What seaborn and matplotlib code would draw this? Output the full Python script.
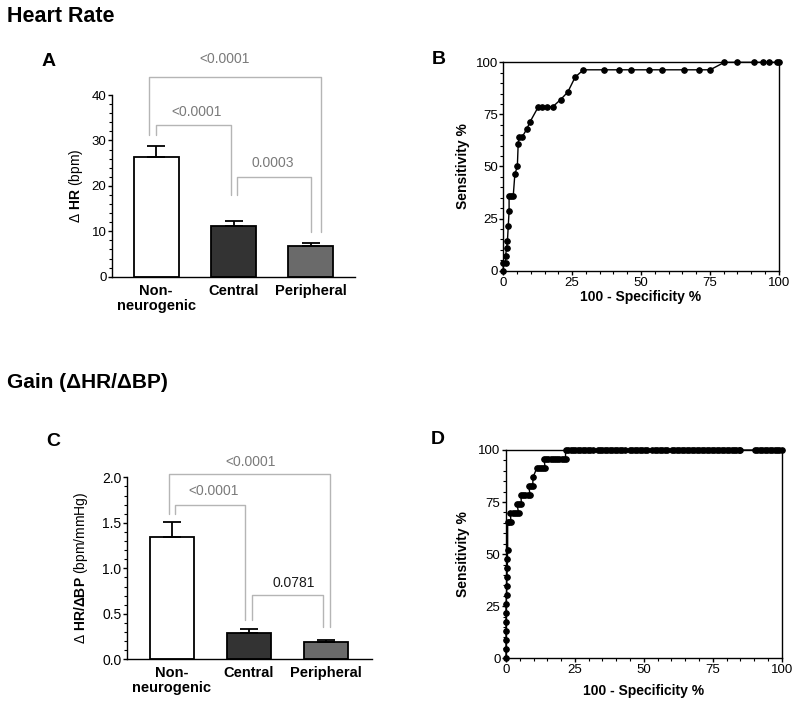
import numpy as np
import pandas as pd
import matplotlib
matplotlib.use("Agg")
import matplotlib.pyplot as plt
import seaborn as sns
from matplotlib.ticker import MultipleLocator, FormatStrFormatter

# ---------------- data ----------------
groups = ["Non-\nneurogenic", "Central", "Peripheral"]
bar_colors = ["#ffffff", "#333333", "#6a6a6a"]

hr_mean = [26.4, 11.2, 6.8]
hr_sem = [2.4, 1.1, 0.7]
hr_pvals = ["<0.0001", "<0.0001", "0.0003"]

gain_mean = [1.34, 0.29, 0.19]
gain_sem = [0.17, 0.04, 0.025]
gain_pvals = ["<0.0001", "<0.0001", "0.0781"]

roc_b_fpr = [0, 0, 0.8, 0.8, 1.2, 1.5, 1.8, 2.1, 2.1, 2.8, 3.6, 4.2, 5.1, 5.4, 5.7,
             6.9, 8.5, 9.7, 12.7, 14.2, 15.7, 17.9, 20.8, 23.4, 26.1, 29.1,
             36.6, 42.0, 46.4, 53.0, 57.7, 65.7, 71.2, 75.1,
             80.3, 84.7, 91.0, 94.2, 96.6, 99.5, 100]
roc_b_tpr = [0, 3.6, 3.6, 7.1, 10.7, 14.3, 21.4, 28.6, 35.7, 35.7, 35.7, 46.4, 50.0, 60.7, 64.3,
             64.3, 67.9, 71.4, 78.6, 78.6, 78.6, 78.6, 82.1, 85.7, 92.9, 96.4,
             96.4, 96.4, 96.4, 96.4, 96.4, 96.4, 96.4, 96.4,
             100, 100, 100, 100, 100, 100, 100]

roc_d_levels = [0, 4.3, 8.7, 13.0, 17.4, 21.7, 26.1, 30.4, 34.8, 39.1, 43.5, 47.8, 52.2,
                65.2, 69.6, 73.9, 78.3, 82.6, 87.0, 91.3, 95.7, 100]
roc_d_fpr_groups = [
    [0], [0], [0], [0], [0], [0], [0], [0.2], [0.3], [0.3], [0.5], [0.5], [0.6],
    [0.6, 1.2, 1.8],
    [1.6, 2.4, 3.2, 4.0, 4.6],
    [4.0, 4.8, 5.6],
    [5.4, 6.2, 7.0, 7.8, 8.8],
    [8.2, 9.0, 9.7],
    [9.8],
    [11.2, 12.0, 12.8, 13.6, 14.2],
    [13.8, 14.6, 15.4, 16.2, 17.0, 17.8, 18.6, 19.4, 20.2, 21.0, 21.6],
    [21.6, 22.5, 23.4, 24.3, 25.2, 26.1, 27.0, 27.9, 28.8, 29.7, 30.6, 31.5,
     33.2, 34.1, 35.0, 35.9, 36.8, 37.7, 38.6, 39.5, 40.4, 41.3, 42.2, 43.1,
     44.9, 45.8, 46.7, 47.6, 48.5, 49.4, 50.3, 51.2, 53.0, 53.9, 54.8, 55.7,
     56.6, 57.5, 58.4, 60.2, 61.1, 62.0, 62.9, 63.8, 64.7, 65.6, 66.5, 67.4,
     68.3, 69.2, 70.1, 71.0, 71.9, 72.8, 73.7, 74.6, 75.5, 76.4, 77.3, 78.2,
     79.1, 80.0, 80.9, 81.8, 82.7, 83.6, 84.5, 85.0,
     90.2, 91.1, 92.0, 92.9, 93.8, 94.7, 95.6, 96.5, 97.4, 98.3, 99.2, 100.0],
]
roc_ticks = [0, 25, 50, 75, 100]

# ---------------- style ----------------
sns.set_style("ticks")
plt.rcParams["font.family"] = ["Liberation Sans", "DejaVu Sans"]
plt.rcParams["mathtext.fontset"] = "custom"
plt.rcParams["mathtext.rm"] = "Liberation Sans"
plt.rcParams["mathtext.bf"] = "Liberation Sans:bold"
for k in ["text.color", "axes.labelcolor", "xtick.color", "ytick.color", "axes.edgecolor"]:
    plt.rcParams[k] = "black"
plt.rcParams["axes.linewidth"] = 1.0
plt.rcParams["xtick.major.width"] = 1.0
plt.rcParams["ytick.major.width"] = 1.0
plt.rcParams["xtick.minor.width"] = 0.8
plt.rcParams["ytick.minor.width"] = 0.8

fig = plt.figure(figsize=(8, 7.06), dpi=100)
W, H = 800, 706


def add_axes_px(x0, x1, ytop, ybot):
    return fig.add_axes([x0 / W, 1 - ybot / H, (x1 - x0) / W, (ybot - ytop) / H])


def bar_panel(ax, means, sems, ylim, major, minor, ylabel, xlim, width, tsize, ylab_x):
    df = pd.DataFrame({"group": groups, "value": means})
    sns.barplot(data=df, x="group", y="value", hue="group", order=groups,
                hue_order=groups, palette=bar_colors, width=width, edgecolor="black",
                linewidth=1.3, saturation=1, errorbar=None, legend=False, ax=ax)
    ax.errorbar(range(len(means)), means, yerr=[np.zeros(len(means)), sems], fmt="none",
                ecolor="black", elinewidth=1.3, capsize=6.5, capthick=1.3, zorder=5)
    ax.set_xlim(*xlim)
    ax.set_ylim(*ylim)
    ax.yaxis.set_major_locator(MultipleLocator(major))
    ax.yaxis.set_minor_locator(MultipleLocator(minor))
    ax.tick_params(axis="y", which="major", length=3.2, labelsize=tsize, pad=0.8)
    ax.tick_params(axis="y", which="minor", length=2.0)
    ax.tick_params(axis="x", length=0, pad=5)
    ax.set_xticks(range(len(groups)))
    ax.set_xticklabels(groups, fontsize=10.5, fontweight="bold", linespacing=1.1)
    ax.set_xlabel("")
    ax.set_ylabel(ylabel, fontsize=10)
    ax.yaxis.set_label_coords(ylab_x, 0.5)
    ax.yaxis.label.set_va("center")
    sns.despine(ax=ax)


def bracket(ax, x1, x2, top, yl, yr, color="#b5b5b5"):
    ax.plot([x1, x1, x2, x2], [yl, top, top, yr], color=color, lw=1.0,
            clip_on=False, zorder=6)


# ---------------- panel A ----------------
axA = add_axes_px(112, 355, 95, 276.7)
bar_panel(axA, hr_mean, hr_sem, (0, 40), 10, 2,
          "Δ $\\mathbf{HR}$ (bpm)", (-0.57, 2.57), 0.58, 9.5, -0.148)
bracket(axA, -0.09, 2.13, 44.0, 31.2, 9.9)
bracket(axA, 0.0, 0.97, 33.5, 31.2, 18.0)
bracket(axA, 1.05, 2.0, 22.0, 18.0, 9.9)
for (xt, yt), txt in zip([(0.88, 47.9), (0.52, 36.2), (1.51, 25.0)], hr_pvals):
    axA.text(xt, yt, txt, ha="center", va="center", fontsize=10, color="#7a7a7a",
             clip_on=False)

# ---------------- panel C ----------------
axC = add_axes_px(127, 372, 477.3, 659.3)
bar_panel(axC, gain_mean, gain_sem, (0, 2.0), 0.5, 0.1,
          "Δ $\\mathbf{HR/ΔBP}$ (bpm/mmHg)", (-0.58, 2.6), 0.57, 10, -0.188)
axC.yaxis.set_major_formatter(FormatStrFormatter("%.1f"))
bracket(axC, -0.04, 2.06, 2.04, 1.60, 0.35)
bracket(axC, 0.04, 0.95, 1.70, 1.60, 0.43)
bracket(axC, 1.04, 1.96, 0.71, 0.43, 0.35)
for (xt, yt), txt, col in zip([(1.03, 2.17), (0.55, 1.85), (1.58, 0.84)], gain_pvals,
                              ["#7a7a7a", "#7a7a7a", "#1a1a1a"]):
    axC.text(xt, yt, txt, ha="center", va="center", fontsize=10, color=col,
             clip_on=False)


# ---------------- ROC panels ----------------
def roc_panel(ax, fpr, tpr, ms, xlab_y, ylab_x):
    df = pd.DataFrame({"fpr": fpr, "tpr": tpr})
    sns.lineplot(data=df, x="fpr", y="tpr", sort=False, estimator=None, color="black",
                 lw=1.0, marker="o", markersize=ms, markeredgecolor="black",
                 markerfacecolor="black", ax=ax)
    for ln in ax.lines:
        ln.set_clip_on(False)
    ax.set_xlim(0, 100)
    ax.set_ylim(0, 100)
    ax.set_xticks(roc_ticks)
    ax.set_yticks(roc_ticks)
    ax.xaxis.set_minor_locator(MultipleLocator(5))
    ax.yaxis.set_minor_locator(MultipleLocator(5))
    ax.tick_params(which="major", length=3.2, labelsize=9.5)
    ax.tick_params(axis="y", pad=0.8)
    ax.tick_params(axis="x", pad=1.2)
    ax.tick_params(which="minor", length=2.0)
    ax.set_xlabel("100 - Specificity %", fontsize=10, fontweight="bold")
    ax.set_ylabel("Sensitivity %", fontsize=10, fontweight="bold")
    ax.xaxis.set_label_coords(0.5, xlab_y)
    ax.xaxis.label.set_va("top")
    ax.yaxis.set_label_coords(ylab_x, 0.5)
    ax.yaxis.label.set_va("center")
    for s in ax.spines.values():
        s.set_visible(True)
        s.set_linewidth(1.0)


axB = add_axes_px(503.3, 778.7, 62.3, 270.7)
roc_panel(axB, roc_b_fpr, roc_b_tpr, 4.0, -0.094, -0.148)

roc_d_fpr = []
roc_d_tpr = []
for lvl, xs in zip(roc_d_levels, roc_d_fpr_groups):
    roc_d_fpr.extend(xs)
    roc_d_tpr.extend([lvl] * len(xs))
axD = add_axes_px(506, 781.7, 450, 658.3)
roc_panel(axD, roc_d_fpr, roc_d_tpr, 4.0, -0.124, -0.155)

# ---------------- titles and panel letters ----------------
fig.text(7 / W, 1 - 16 / H, "Heart Rate", fontsize=15.5, fontweight="bold", va="center")
fig.text(7 / W, 1 - 383 / H, "Gain (ΔHR/ΔBP)", fontsize=15, fontweight="bold", va="center")
for (xp, yp), letter in zip([(49, 61), (439, 59), (53, 441), (438, 439)], "ABCD"):
    fig.text(xp / W, 1 - yp / H, letter, fontsize=14, fontweight="bold",
             ha="center", va="center")

fig.savefig("out.png", dpi=100)
